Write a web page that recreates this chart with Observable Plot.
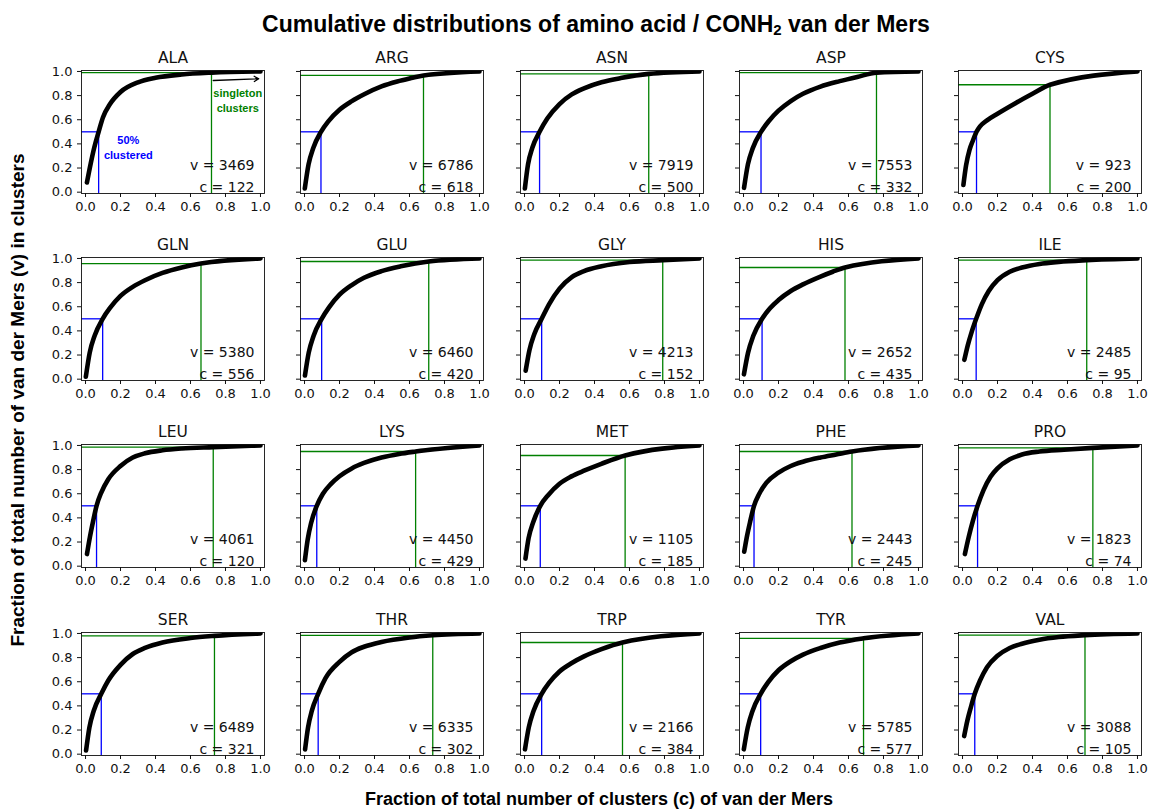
<!DOCTYPE html>
<html><head><meta charset="utf-8">
<script src="https://cdn.jsdelivr.net/npm/d3@7"></script>
<script src="https://cdn.jsdelivr.net/npm/@observablehq/plot@0.6"></script>
<style>
body{margin:0;background:#fff;}
#chart{position:relative;width:1151px;height:812px;overflow:hidden;font-family:"Liberation Sans",Arial,sans-serif;color:#000;}
.panel{position:absolute;}
#title{position:absolute;left:0;width:1192px;top:24px;transform:translateY(-50%);text-align:center;font-weight:bold;font-size:23px;white-space:nowrap;}
#ylab{position:absolute;left:18px;top:400px;transform:translate(-50%,-50%) rotate(-90deg);font-weight:bold;font-size:19px;white-space:nowrap;}
#xlab{position:absolute;left:599px;top:799px;transform:translate(-50%,-50%);font-weight:bold;font-size:18px;line-height:20px;white-space:nowrap;}
</style></head>
<body>
<div id="chart">
<div id="title">Cumulative distributions of amino acid / CONH<sub style="font-size:15px;vertical-align:-3px">2</sub> van der Mers</div>
<div id="ylab">Fraction of total number of van der Mers (v) in clusters</div>
<div id="xlab">Fraction of total number of clusters (c) of van der Mers</div>
</div>
<script>
const names = ["ALA","ARG","ASN","ASP","CYS","GLN","GLU","GLY","HIS","ILE","LEU","LYS","MET","PHE","PRO","SER","THR","TRP","TYR","VAL"];
const vCounts = [3469,6786,7919,7553,923,5380,6460,4213,2652,2485,4061,4450,1105,2443,1823,6489,6335,2166,5785,3088];
const cCounts = [122,618,500,332,200,556,420,152,435,95,120,429,185,245,74,321,302,384,577,105];
const halfX = [0.075,0.094,0.086,0.10,0.08,0.098,0.098,0.098,0.106,0.078,0.063,0.07,0.09,0.06,0.086,0.09,0.078,0.098,0.098,0.07];
const singleX = [0.72,0.68,0.71,0.76,0.50,0.66,0.71,0.79,0.58,0.71,0.73,0.635,0.575,0.62,0.745,0.737,0.733,0.56,0.686,0.70];
const singleY = [0.99,0.967,0.98,0.99,0.89,0.958,0.975,0.986,0.925,0.986,0.986,0.95,0.917,0.95,0.98,0.98,0.985,0.925,0.96,0.986];

const curveALA = [[0.008,0.08],[0.03,0.24],[0.05,0.37],[0.075,0.5],[0.1,0.62],[0.14,0.73],[0.2,0.83],[0.3,0.91],[0.4,0.948],[0.55,0.975],[0.72,0.99],[1,1]];
const curveARG = [[0.0016,0.03],[0.023,0.23],[0.05,0.366],[0.094,0.5],[0.136,0.587],[0.2,0.683],[0.268,0.752],[0.344,0.813],[0.44,0.876],[0.53,0.917],[0.61,0.945],[0.68,0.967],[1,1]];
const curveASN = [[0.002,0.03],[0.02,0.23],[0.045,0.37],[0.086,0.5],[0.13,0.61],[0.2,0.73],[0.27,0.81],[0.34,0.86],[0.44,0.91],[0.55,0.945],[0.71,0.98],[1,1]];
const curveASP = [[0.003,0.036],[0.025,0.23],[0.053,0.365],[0.10,0.5],[0.145,0.59],[0.2,0.675],[0.27,0.755],[0.34,0.815],[0.44,0.875],[0.55,0.92],[0.65,0.955],[0.76,0.99],[1,1]];
const curveCYS = [[0.005,0.06],[0.02,0.22],[0.04,0.35],[0.06,0.43],[0.08,0.5],[0.1,0.545],[0.14,0.595],[0.2,0.65],[0.3,0.735],[0.4,0.815],[0.5,0.89],[1,1]];
const curveGLN = [[0.0018,0.02],[0.024,0.22],[0.052,0.36],[0.098,0.5],[0.14,0.59],[0.2,0.69],[0.27,0.765],[0.34,0.82],[0.44,0.88],[0.55,0.925],[0.66,0.958],[1,1]];
const curveGLU = [[0.0024,0.03],[0.024,0.22],[0.052,0.36],[0.098,0.5],[0.14,0.595],[0.2,0.70],[0.27,0.78],[0.34,0.84],[0.44,0.895],[0.55,0.935],[0.71,0.975],[1,1]];
const curveGLY = [[0.0066,0.07],[0.028,0.24],[0.055,0.37],[0.098,0.5],[0.14,0.62],[0.2,0.75],[0.27,0.845],[0.34,0.895],[0.44,0.935],[0.6,0.97],[0.79,0.986],[1,1]];
const curveHIS = [[0.0023,0.04],[0.026,0.22],[0.056,0.36],[0.106,0.5],[0.15,0.585],[0.2,0.655],[0.27,0.73],[0.34,0.785],[0.44,0.85],[0.51,0.89],[0.58,0.925],[1,1]];
const curveILE = [[0.0105,0.16],[0.03,0.28],[0.052,0.39],[0.078,0.5],[0.11,0.62],[0.15,0.73],[0.2,0.82],[0.27,0.89],[0.34,0.925],[0.44,0.955],[0.55,0.972],[0.71,0.986],[1,1]];
const curveLEU = [[0.0083,0.10],[0.025,0.24],[0.043,0.37],[0.063,0.5],[0.09,0.61],[0.13,0.72],[0.2,0.83],[0.27,0.9],[0.34,0.935],[0.44,0.96],[0.55,0.975],[0.73,0.986],[1,1]];
const curveLYS = [[0.0023,0.05],[0.018,0.22],[0.038,0.36],[0.07,0.5],[0.105,0.6],[0.15,0.68],[0.2,0.745],[0.27,0.81],[0.34,0.855],[0.44,0.9],[0.54,0.93],[0.635,0.95],[1,1]];
const curveMET = [[0.0054,0.063],[0.023,0.23],[0.05,0.366],[0.09,0.5],[0.136,0.59],[0.2,0.683],[0.268,0.744],[0.344,0.793],[0.439,0.848],[0.575,0.917],[1,1]];
const curvePHE = [[0.004,0.12],[0.02,0.25],[0.038,0.37],[0.06,0.5],[0.09,0.6],[0.13,0.69],[0.2,0.775],[0.27,0.83],[0.34,0.865],[0.44,0.9],[0.53,0.925],[0.62,0.95],[1,1]];
const curvePRO = [[0.0135,0.10],[0.035,0.24],[0.06,0.38],[0.086,0.5],[0.12,0.63],[0.16,0.74],[0.2,0.81],[0.27,0.885],[0.34,0.925],[0.44,0.95],[0.58,0.965],[0.745,0.98],[1,1]];
const curveSER = [[0.0031,0.03],[0.022,0.22],[0.047,0.36],[0.09,0.5],[0.13,0.61],[0.2,0.74],[0.27,0.83],[0.34,0.88],[0.44,0.925],[0.6,0.962],[0.737,0.98],[1,1]];
const curveTHR = [[0.0033,0.04],[0.02,0.22],[0.042,0.36],[0.078,0.5],[0.12,0.63],[0.2,0.765],[0.27,0.845],[0.34,0.89],[0.44,0.93],[0.6,0.967],[0.733,0.985],[1,1]];
const curveTRP = [[0.0026,0.04],[0.024,0.22],[0.052,0.36],[0.098,0.5],[0.14,0.59],[0.2,0.685],[0.27,0.755],[0.34,0.81],[0.44,0.87],[0.56,0.925],[1,1]];
const curveTYR = [[0.0017,0.04],[0.024,0.22],[0.052,0.36],[0.098,0.5],[0.14,0.595],[0.2,0.695],[0.27,0.77],[0.34,0.825],[0.44,0.88],[0.55,0.925],[0.686,0.96],[1,1]];
const curveVAL = [[0.0095,0.15],[0.028,0.28],[0.048,0.39],[0.07,0.5],[0.1,0.61],[0.14,0.72],[0.2,0.815],[0.27,0.88],[0.34,0.915],[0.44,0.948],[0.55,0.97],[0.70,0.986],[1,1]];
const curves = [curveALA,curveARG,curveASN,curveASP,curveCYS,curveGLN,curveGLU,curveGLY,curveHIS,curveILE,curveLEU,curveLYS,curveMET,curvePHE,curvePRO,curveSER,curveTHR,curveTRP,curveTYR,curveVAL];

const tickValues = [0,0.2,0.4,0.6,0.8,1.0];
const noteLabels = ["50%\nclustered","singleton\nclusters"];
const noteX = [0.245,0.87];
const noteY = [0.375,0.763];
const arrowFrom = [0.73,0.925];
const arrowTo = [0.99,0.94];

const blue = "#0000ff", green = "#008000";
const xDomain = [-0.023, 1.023], yDomain = [-0.011, 1.008];
const FL0 = 81, FT0 = 70, DX = 219.3, DY = 187.2, FW = 183, FH = 123;
const ML = 45, MT = 32, MR = 14, MB = 30;

const chart = document.getElementById("chart");
names.forEach((name, i) => {
  const col = i % 5, row = Math.floor(i / 5);
  const marks = [
    Plot.ruleY([{y: 0.5, x2: halfX[i]}], {y: "y", x1: xDomain[0], x2: "x2", stroke: blue, strokeWidth: 1.3}),
    Plot.ruleX([{x: halfX[i], y2: 0.5}], {x: "x", y1: yDomain[0], y2: "y2", stroke: blue, strokeWidth: 1.3}),
    Plot.ruleY([{y: singleY[i], x2: singleX[i]}], {y: "y", x1: xDomain[0], x2: "x2", stroke: green, strokeWidth: 1.3}),
    Plot.ruleX([{x: singleX[i], y2: singleY[i]}], {x: "x", y1: yDomain[0], y2: "y2", stroke: green, strokeWidth: 1.3}),
    Plot.line(curves[i], {x: d => d[0], y: d => d[1], curve: "monotone-x", stroke: "black", strokeWidth: 4.6, clip: true}),
    Plot.text([`v = ${vCounts[i]}\nc = ${cCounts[i]}`], {frameAnchor: "bottom-right", textAnchor: "end", lineAnchor: "bottom", dx: -10, dy: -2, fontSize: 14, lineHeight: 1.55, fill: "#111"}),
    Plot.text([name], {frameAnchor: "top", lineAnchor: "bottom", dy: -8, fontSize: 15.5, fill: "#111"}),
    Plot.frame({stroke: "#111", strokeWidth: 0.9}),
    Plot.axisX({ticks: tickValues, tickFormat: d3.format(".1f"), tickSize: 4, tickPadding: 4, label: null, fontSize: 13}),
    Plot.axisY({ticks: tickValues, tickFormat: col === 0 ? d3.format(".1f") : () => "", tickSize: 4, tickPadding: 5, label: null, fontSize: 13})
  ];
  if (i === 0) {
    marks.push(
      Plot.text([0], {x: () => noteX[0], y: () => noteY[0], text: () => noteLabels[0], fill: blue, fontWeight: "bold", fontSize: 11, fontFamily: "Liberation Sans", lineHeight: 1.35}),
      Plot.text([1], {x: () => noteX[1], y: () => noteY[1], text: () => noteLabels[1], fill: green, fontWeight: "bold", fontSize: 11, fontFamily: "Liberation Sans", lineHeight: 1.35}),
      Plot.arrow([{x1: arrowFrom[0], y1: arrowFrom[1], x2: arrowTo[0], y2: arrowTo[1]}], {x1: "x1", y1: "y1", x2: "x2", y2: "y2", stroke: "black", strokeWidth: 1.3, headLength: 6})
    );
  }
  const svg = Plot.plot({
    width: ML + FW + MR, height: MT + FH + MB,
    marginLeft: ML, marginRight: MR, marginTop: MT, marginBottom: MB,
    style: {background: "transparent", fontFamily: "DejaVu Sans", fontSize: "13px", color: "#111", overflow: "visible"},
    x: {domain: xDomain},
    y: {domain: yDomain},
    marks
  });
  svg.classList.add("panel");
  svg.style.left = (FL0 + col * DX - ML) + "px";
  svg.style.top = (FT0 + row * DY - MT) + "px";
  svg.style.position = "absolute";
  chart.appendChild(svg);
});
</script>
</body></html>
